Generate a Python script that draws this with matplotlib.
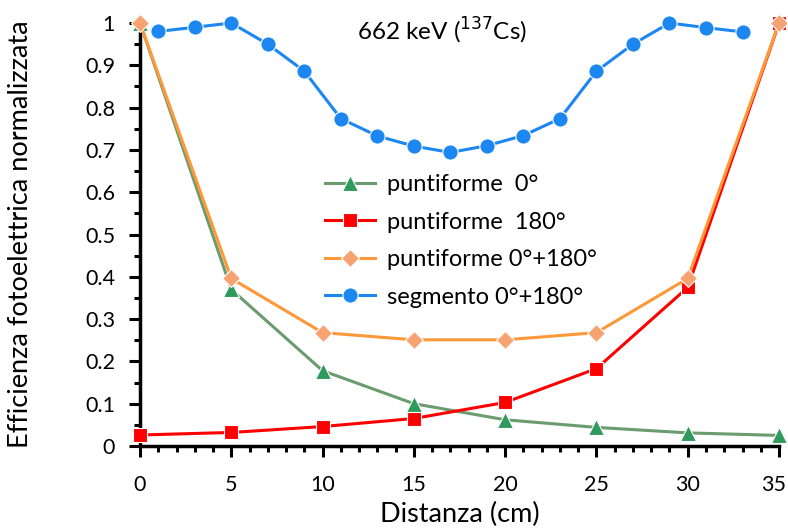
import matplotlib
matplotlib.use("Agg")
import matplotlib.pyplot as plt
from matplotlib.ticker import MultipleLocator, FuncFormatter
from matplotlib.transforms import ScaledTranslation

plt.rcParams['font.family'] = ['Lato', 'DejaVu Sans']

# Point-source positions (cm)
dist_punt = [0, 5, 10, 15, 20, 25, 30, 35]
punt_0 = [1.0, 0.37, 0.178, 0.100, 0.062, 0.044, 0.031, 0.025]
punt_180 = [0.026, 0.032, 0.046, 0.065, 0.103, 0.183, 0.375, 1.0]
punt_sum = [1.0, 0.396, 0.268, 0.251, 0.251, 0.268, 0.396, 1.0]

# Extended (segment) source positions (cm)
dist_seg = [1, 3, 5, 7, 9, 11, 13, 15, 17, 19, 21, 23, 25, 27, 29, 31, 33]
seg_sum = [0.980, 0.990, 1.0, 0.950, 0.886, 0.774, 0.733, 0.709, 0.694,
           0.710, 0.734, 0.774, 0.886, 0.950, 1.0, 0.989, 0.979]

x_ticks = [0, 5, 10, 15, 20, 25, 30, 35]
labels = ["puntiforme  0°", "puntiforme  180°", "puntiforme 0°+180°", "segmento 0°+180°"]

fig = plt.figure(figsize=(7.88, 5.29), dpi=100)
ax = fig.add_axes([0.1777, 0.1569, 0.9886 - 0.1777, 0.9565 - 0.1569])

ax.plot(dist_punt, punt_0, color="#6a9c6e", lw=2.2, marker="^", ms=11.5,
        mfc="#2e9a5c", mec="white", mew=0.8, label=labels[0], clip_on=False, zorder=3)
ax.plot(dist_punt, punt_180, color="#ff0000", lw=2.2, marker="s", ms=9.5,
        mfc="#ff0000", mec="white", mew=0.8, label=labels[1], clip_on=False, zorder=3)
ax.plot(dist_punt, punt_sum, color="#ff9838", lw=2.2, marker="D", ms=9,
        mfc="#f7a271", mec="white", mew=0.8, label=labels[2], clip_on=False, zorder=4)
ax.plot(dist_seg, seg_sum, color="#1c87f0", lw=2.2, marker="o", ms=11,
        mfc="#1c87f0", mec="white", mew=0.8, label=labels[3], clip_on=False, zorder=3)

ax.set_xlim(0, 35)
ax.set_ylim(0, 1)
ax.set_xticks(x_ticks)
ax.xaxis.set_minor_locator(MultipleLocator(1))
ax.yaxis.set_major_locator(MultipleLocator(0.1))
ax.yaxis.set_minor_locator(MultipleLocator(0.05))


def ylab(v, pos):
    if abs(v) < 1e-9:
        return "0"
    if abs(v - 1) < 1e-9:
        return "1"
    return f"{v:.1f}"


ax.yaxis.set_major_formatter(FuncFormatter(ylab))

for s in ("top", "right"):
    ax.spines[s].set_visible(False)
for s in ("left", "bottom"):
    ax.spines[s].set_linewidth(2.5)
    ax.spines[s].set_color("black")

ax.tick_params(axis="both", which="major", direction="out", length=8, width=2.2,
               labelsize=15.5)
ax.tick_params(axis="both", which="minor", direction="out", length=4.5, width=2.2)
ax.tick_params(axis="x", pad=13)
ax.tick_params(axis="y", pad=10)

# keep the last x tick label inside the figure edge
last = ax.xaxis.get_major_ticks()[-1].label1
last.set_transform(last.get_transform() + ScaledTranslation(-4 / 72, 0, fig.dpi_scale_trans))

ax.set_xlabel("Distanza (cm)", fontsize=19.5)
ax.set_ylabel("Efficienza fotoelettrica normalizzata", fontsize=19.5)
ax.xaxis.set_label_coords(0.5, -0.133)
ax.yaxis.set_label_coords(-0.168, 0.5)

ax.text(0.472, 0.96, r"662 keV ($^{137}$Cs)", transform=ax.transAxes,
        fontsize=17.5, ha="center", va="baseline")

leg = ax.legend(loc="center left", bbox_to_anchor=(0.29, 0.485), frameon=False,
                fontsize=17, handlelength=2.1, labelspacing=0.7, handletextpad=0.5,
                borderpad=0, borderaxespad=0)

fig.savefig("out.png", dpi=100)
